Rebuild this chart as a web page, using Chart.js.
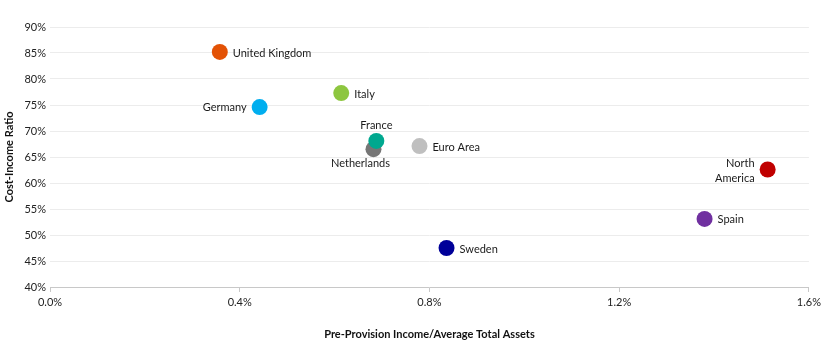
<!DOCTYPE html>
<html>
<head>
<meta charset="utf-8">
<script src="https://cdn.jsdelivr.net/npm/chart.js@4"></script>
<style>
html,body{margin:0;padding:0;background:#fff;}
#wrap{width:825px;height:355px;position:relative;}
</style>
</head>
<body>
<div id="wrap"><canvas id="c" width="825" height="355"></canvas></div>
<script>
const countries = ["United Kingdom","Germany","Italy","Netherlands","France","Euro Area","North America","Spain","Sweden"];
const ppiToAssets = [0.358, 0.442, 0.614, 0.682, 0.688, 0.779, 1.513, 1.380, 0.836];
const costIncome = [85.2, 74.6, 77.3, 66.5, 68.1, 67.1, 62.6, 53.1, 47.5];
const colors = ["#E35205","#00AEEF","#8DC63F","#767676","#00A88F","#BFBFBF","#C00000","#7030A0","#000099"];
const xTicks = [0, 0.4, 0.8, 1.2, 1.6];
const yTicks = [40,45,50,55,60,65,70,75,80,85,90];

const FONT = "Lato, 'Open Sans', sans-serif";
const placement = {
  "United Kingdom": "right", "Germany": "left", "Italy": "right",
  "Netherlands": "below", "France": "above", "Euro Area": "right",
  "North America": "left2", "Spain": "right", "Sweden": "right"
};

const labelPlugin = {
  id: "pointLabels",
  afterDatasetsDraw(chart) {
    const ctx = chart.ctx;
    const meta = chart.getDatasetMeta(0);
    ctx.save();
    ctx.font = "11px " + FONT;
    ctx.fillStyle = "#1a1a1a";
    meta.data.forEach((pt, i) => {
      const name = countries[i];
      const p = placement[name];
      const x = pt.x, y = pt.y;
      if (p === "right") {
        ctx.textAlign = "left"; ctx.textBaseline = "middle";
        ctx.fillText(name, x + 13, y + 1);
      } else if (p === "left") {
        ctx.textAlign = "right"; ctx.textBaseline = "middle";
        ctx.fillText(name, x - 13, y);
      } else if (p === "above") {
        ctx.textAlign = "center"; ctx.textBaseline = "middle";
        ctx.fillText(name, x, y - 15);
      } else if (p === "below") {
        ctx.textAlign = "center"; ctx.textBaseline = "middle";
        ctx.fillText(name, x - 13, y + 14);
      } else if (p === "left2") {
        const parts = name.split(" ");
        ctx.textAlign = "right"; ctx.textBaseline = "middle";
        ctx.fillText(parts[0], x - 13, y - 6);
        ctx.fillText(parts[1], x - 13, y + 9);
      }
    });
    ctx.restore();
  }
};

new Chart(document.getElementById("c"), {
  type: "scatter",
  data: {
    datasets: [{
      data: ppiToAssets.map((v, i) => ({x: v, y: costIncome[i]})),
      pointBackgroundColor: colors,
      pointBorderWidth: 0,
      pointRadius: 8,
      pointHoverRadius: 8
    }]
  },
  options: {
    responsive: false,
    animation: false,
    events: [],
    layout: { padding: { top: 27, right: 13, bottom: 14, left: 3 } },
    plugins: { legend: { display: false }, tooltip: { enabled: false } },
    scales: {
      x: {
        type: "linear", min: 0, max: 1.6,
        afterBuildTicks(s) { s.ticks = xTicks.map(v => ({value: v})); },
        afterFit(s) { s.height = 54; },
        grid: { drawOnChartArea: false, drawTicks: true, tickLength: 5, color: "#c8c8c8" },
        border: { display: true, color: "#c8c8c8" },
        ticks: { font: { size: 11, family: FONT }, color: "#222", padding: 4,
          callback: v => v.toFixed(1) + "%" },
        title: { display: true, text: "Pre-Provision Income/Average Total Assets",
          font: { size: 11, weight: "bold", family: FONT }, color: "#111", padding: { top: 14, bottom: 0 } }
      },
      y: {
        type: "linear", min: 40, max: 90,
        afterBuildTicks(s) { s.ticks = yTicks.map(v => ({value: v})); },
        afterFit(s) { s.width = 47; },
        grid: { drawTicks: false, color: "#ececec" },
        border: { display: false },
        ticks: { font: { size: 11, family: FONT }, color: "#222", padding: 4,
          callback: v => v + "%" },
        title: { display: true, text: "Cost-Income Ratio",
          font: { size: 11, weight: "bold", family: FONT }, color: "#111", padding: { top: 0, bottom: 2 } }
      }
    }
  },
  plugins: [labelPlugin]
});
</script>
</body>
</html>
